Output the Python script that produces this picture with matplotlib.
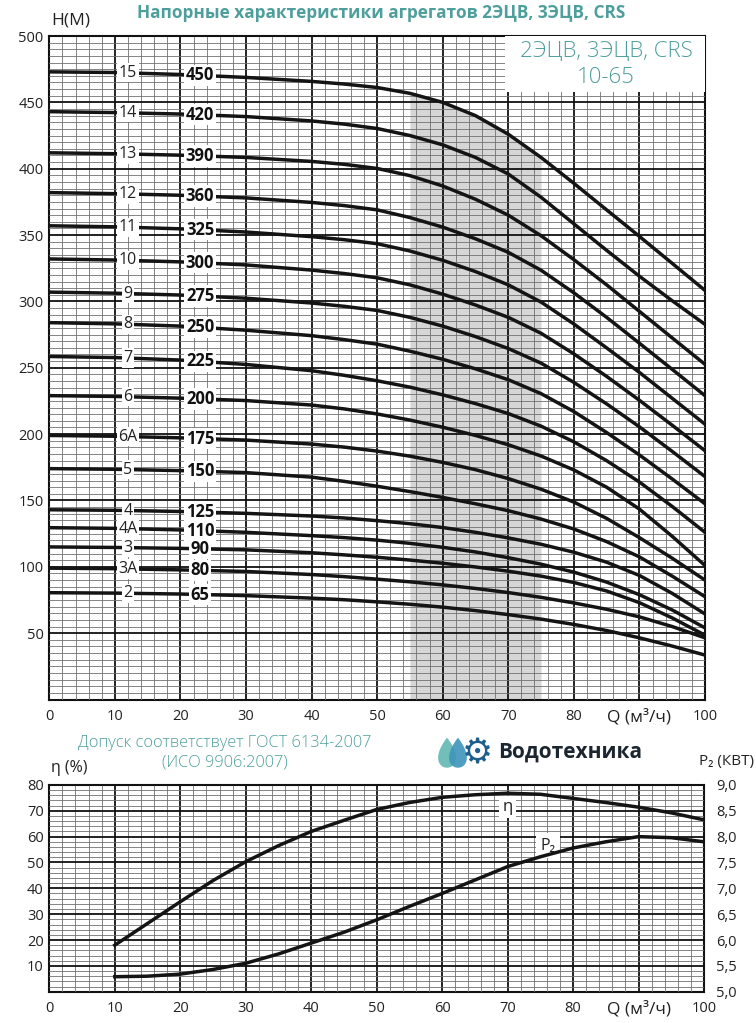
import numpy as np
import matplotlib.pyplot as plt
from matplotlib.ticker import MultipleLocator, FixedLocator
from matplotlib.path import Path
from matplotlib.patches import PathPatch

plt.rcParams['font.family'] = ['Open Sans', 'DejaVu Sans']

TEAL = '#4e9f9c'
INK = '#141414'

# ---------- head curves (H, m) ----------
q = [0, 10, 20, 30, 40, 45, 50, 55, 60, 65, 70, 75, 80, 85, 90, 95, 100]

head_15 = [473, 472.5, 471, 468.8, 465.8, 463.8, 461.2, 456.8, 450, 440, 426, 408.5, 389, 369, 349, 328.7, 308.3]
head_14 = [443, 442.3, 441.2, 439.3, 436, 433.6, 430.3, 425, 418, 408.5, 396, 378.5, 358.5, 338.5, 319, 300.5, 282.7]
head_13 = [412, 411.3, 410.2, 408.5, 405.5, 403.3, 400.2, 394.8, 387, 377, 365, 349.5, 331.5, 312.5, 292.5, 272.5, 252.6]
head_12 = [382, 381.2, 380, 378, 374.6, 372.2, 369, 363.2, 356, 347.2, 337, 323.5, 306.5, 288, 268.5, 248.8, 229]
head_11 = [357, 356.2, 354.7, 352.3, 348.8, 346.5, 343.5, 338, 331, 322.5, 312.5, 299.5, 283, 265, 246.5, 227, 207.5]
head_10 = [332, 331.2, 329.8, 327.5, 323.6, 321, 317.8, 312.5, 305.5, 297.3, 288, 276, 260.5, 243.5, 225.5, 206.7, 187.5]
head_9 = [307, 306.2, 304.8, 302.4, 298.8, 296.3, 293.2, 288, 281.4, 273.5, 264.5, 253.5, 239, 222.8, 205.5, 187, 168]
head_8 = [284, 283.1, 281.4, 278.3, 274.2, 271.2, 267.8, 262.5, 256.4, 249.2, 241, 230.5, 217, 201.2, 184.3, 166.2, 147.5]
head_7 = [258.5, 257.7, 255.8, 252.5, 247.8, 244.3, 240.2, 235.4, 229.6, 223, 215.5, 206, 194.2, 180, 163.9, 145.5, 126]
head_6 = [229, 228.4, 227.1, 225.3, 221.9, 219, 215.2, 210.6, 205.2, 199, 192, 183.5, 173, 160, 143.5, 123, 101]
head_6a = [199, 198.4, 197.2, 195.5, 192.5, 190.2, 187.2, 183.4, 178.7, 173.2, 166.5, 158.5, 148.8, 136.5, 122, 106.5, 90]
head_5 = [174, 173.5, 172.5, 171, 167.6, 164.4, 160.7, 156.7, 152.3, 147.5, 142.3, 136, 128.5, 119, 107.5, 93, 77.5]
head_4 = [143, 142.6, 141.7, 140.3, 138.3, 136.8, 134.8, 132.5, 129.6, 126, 121.8, 117, 111, 103.5, 93.5, 80, 64.5]
head_4a = [129.5, 129, 127.8, 126, 123.5, 122, 120.1, 117.7, 114.7, 111.2, 106.9, 102, 96, 88.5, 79, 67.5, 54]
head_3 = [115, 114.6, 113.9, 112.8, 110.6, 109, 107.2, 105.1, 102.7, 99.9, 96.7, 93, 88.2, 81.8, 73, 61.5, 48.5]
head_3a = [99, 98.6, 97.7, 96.5, 94.2, 92.6, 90.7, 88.7, 86.4, 83.7, 80.6, 77, 72.8, 68, 62.3, 55, 46.5]
head_2 = [80.5, 80.2, 79.5, 78.3, 76.4, 75.2, 73.6, 71.8, 69.6, 67, 64, 60.6, 56.6, 52, 46.5, 40.3, 33.5]

stage_labels = ['15', '14', '13', '12', '11', '10', '9', '8', '7', '6', '6A', '5', '4', '4A', '3', '3A', '2']
model_labels = ['450', '420', '390', '360', '325', '300', '275', '250', '225', '200',
                '175', '150', '125', '110', '90', '80', '65']
heads = [head_15, head_14, head_13, head_12, head_11, head_10, head_9, head_8, head_7,
         head_6, head_6a, head_5, head_4, head_4a, head_3, head_3a, head_2]

# recommended working range
work_q = [55, 75]

# ---------- efficiency / power ----------
q_low = [10, 15, 20, 25, 30, 35, 40, 45, 50, 55, 60, 65, 70, 75, 80, 85, 90, 95, 100]
eff = [18, 26.4, 34.8, 43, 50.3, 56.5, 62, 66.3, 70.5, 73.2, 75.2, 76.2, 76.8, 76.4, 74.8, 73.2, 71.4, 69.2, 66.5]
power_kw = [5.29, 5.30, 5.34, 5.43, 5.55, 5.73, 5.94, 6.15, 6.39, 6.65, 6.90, 7.16, 7.42, 7.61, 7.78, 7.90, 8.00, 7.98, 7.90]

x_ticks = [0, 10, 20, 30, 40, 50, 60, 70, 80, 90, 100]
x_ticklabels = ['0', '10', '20', '30', '40', '50', '60', '70', '80', 'Q (м³/ч)', '100']
p2_ticks = [5.0, 5.5, 6.0, 6.5, 7.0, 7.5, 8.0, 8.5, 9.0]

fig = plt.figure(figsize=(7.56, 10.23), dpi=100)


def style_grid(ax, ymajor, yminor):
    ax.xaxis.set_major_locator(FixedLocator(x_ticks))
    ax.xaxis.set_minor_locator(MultipleLocator(2))
    ax.yaxis.set_major_locator(MultipleLocator(ymajor))
    ax.yaxis.set_minor_locator(MultipleLocator(yminor))
    ax.grid(which='major', color='#111111', lw=1.3)
    ax.grid(which='minor', color='#707070', lw=0.6)
    ax.set_axisbelow(False)
    ax.tick_params(which='both', length=0, labelsize=10.5, colors='#222222')
    ax.tick_params(axis='x', pad=7)
    ax.tick_params(axis='y', pad=4)
    for s in ax.spines.values():
        s.set_linewidth(1.5)
        s.set_color('#111111')
    ax.set_xticklabels(x_ticklabels)
    ax.get_xticklabels()[9].set_fontsize(12.5)


# ================= top chart =================
ax = fig.add_axes([0.0652, 0.3162, 0.8673, 0.6486])
ax.set_xlim(0, 100)
ax.set_ylim(0, 500)
style_grid(ax, 50, 5)
ax.set_yticks(range(50, 501, 50))

band_q = np.arange(work_q[0], work_q[1] + 0.5, 0.5)
ax.fill_between(band_q, 0, np.interp(band_q, q, head_15),
                color='#c9c9c9', alpha=0.75, lw=0, zorder=1)

for h, st, md in zip(heads, stage_labels, model_labels):
    ax.plot(q, h, color=INK, lw=2.5, zorder=3, solid_capstyle='butt')
    ax.text(12, np.interp(12, q, h), st, ha='center', va='center', fontsize=11.5,
            color='#222222', zorder=4,
            bbox=dict(boxstyle='square,pad=0.1', fc='white', ec='none'))
    ax.text(23, np.interp(23, q, h), md, ha='center', va='center', fontsize=12,
            fontweight='bold', color='#111111', zorder=4,
            bbox=dict(boxstyle='square,pad=0.1', fc='white', ec='none'))

# model box, top right
ax.fill_between([69.5, 100], 458, 500, color='white', lw=0, zorder=3.5)
ax.text(84.9, 488, '2ЭЦВ, 3ЭЦВ, CRS', ha='center', va='center', fontsize=16,
        color=TEAL, fontweight='light', zorder=5)
ax.text(84.9, 469, '10-65', ha='center', va='center', fontsize=16,
        color=TEAL, fontweight='light', zorder=5)

fig.text(0.504, 0.9873, 'Напорные характеристики агрегатов 2ЭЦВ, 3ЭЦВ, CRS',
         ha='center', va='center', fontsize=12.4, fontweight='bold', color=TEAL)
fig.text(0.093, 0.980, 'H(М)', ha='center', va='center', fontsize=12.5, color='#222222')

# ================= bottom chart =================
ax2 = fig.add_axes([0.0652, 0.0306, 0.8660, 0.2021])
ax2.set_xlim(0, 100)
ax2.set_ylim(0, 80)
style_grid(ax2, 10, 2)
ax2.set_yticks(range(10, 81, 10))

ax2.plot(q_low, eff, color=INK, lw=2.5, zorder=3)

axp = ax2.twinx()
axp.set_ylim(5.0, 9.0)
axp.set_yticks(p2_ticks)
axp.set_yticklabels([f'{v:.1f}'.replace('.', ',') for v in p2_ticks])
axp.tick_params(length=0, labelsize=10.5, pad=9, colors='#222222')
for s in axp.spines.values():
    s.set_visible(False)
axp.plot(q_low, power_kw, color=INK, lw=2.5, zorder=3)

ax2.text(70, 71.5, 'η', ha='center', va='center', fontsize=12, color='#222222', zorder=4,
         bbox=dict(boxstyle='square,pad=0.2', fc='white', ec='none'))
ax2.text(76.2, 56.5, 'P₂', ha='center', va='center', fontsize=11.5, color='#222222', zorder=4,
         bbox=dict(boxstyle='square,pad=0.3', fc='white', ec='none'))

fig.text(0.2976, 0.2737, 'Допуск соответствует ГОСТ 6134-2007', ha='center', va='center',
         fontsize=11.8, color=TEAL, fontweight='light')
fig.text(0.2976, 0.2542, '(ИСО 9906:2007)', ha='center', va='center',
         fontsize=11.8, color=TEAL, fontweight='light')
fig.text(0.091, 0.249, 'η (%)', ha='center', va='center', fontsize=11.5, color='#222222')
fig.text(0.998, 0.256, 'P₂ (КВТ)', ha='right', va='center', fontsize=11, color='#222222')

# logo: two drops, a gear and the name
logo = fig.add_axes([0.576, 0.246, 0.074, 0.04])
logo.set_xlim(0, 4.6)
logo.set_ylim(0, 3.4)
logo.axis('off')
t = np.linspace(0, 2 * np.pi, 80)
for cx, col in [(0.95, '#62b7b3'), (1.85, '#3d95b9')]:
    xs = cx + 0.95 * np.sin(t) * np.sin(t / 2)
    ys = 1.55 + 1.25 * np.cos(t)
    logo.add_patch(PathPatch(Path(np.column_stack([xs, ys])), fc=col, ec='none', alpha=0.9))
logo.text(3.45, 1.45, '⚙', ha='center', va='center', fontsize=25, color='#1e5e8c',
          family='DejaVu Sans')
fig.text(0.659, 0.2645, 'Водотехника', ha='left', va='center', fontsize=15,
         fontweight='bold', color='#1c2631')

fig.savefig('out.png', dpi=100)
